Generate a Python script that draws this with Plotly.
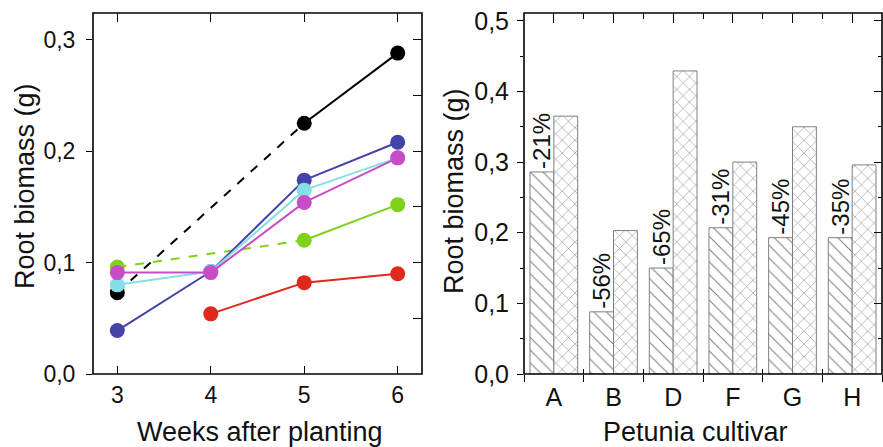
import plotly.graph_objects as go

# ---------------- data ----------------
weeks = [3, 4, 5, 6]
black_vals = [0.073, None, 0.225, 0.288]
red_vals = [None, 0.054, 0.082, 0.090]
green_vals = [0.096, None, 0.120, 0.152]
blue_vals = [0.039, 0.092, 0.174, 0.208]
cyan_vals = [0.080, 0.092, 0.165, 0.194]
magenta_vals = [0.091, 0.091, 0.154, 0.194]

cultivars = ["A", "B", "D", "F", "G", "H"]
treated_vals = [0.286, 0.088, 0.150, 0.207, 0.193, 0.193]
control_vals = [0.365, 0.203, 0.429, 0.300, 0.350, 0.296]
pct_labels = ["-21%", "-56%", "-65%", "-31%", "-45%", "-35%"]

left_yticks = [0.0, 0.1, 0.2, 0.3]
left_yticktext = ["0,0", "0,1", "0,2", "0,3"]
right_yticks = [0.0, 0.1, 0.2, 0.3, 0.4, 0.5]
right_yticktext = ["0,0", "0,1", "0,2", "0,3", "0,4", "0,5"]

W, H = 883, 447
FONT = "Liberation Sans, Arial, sans-serif"

# ---------------- geometry (paper fractions) ----------------
L_x0, L_x1 = 93 / W, 422 / W
R_x0, R_x1 = 524 / W, 882 / W
y0, y1 = 1 - 374 / H, 1 - 13 / H

fig = go.Figure()

series = [
    ("black", black_vals, "#000000"),
    ("red", red_vals, "#e0281c"),
    ("green", green_vals, "#80d01c"),
    ("blue", blue_vals, "#4343a8"),
    ("cyan", cyan_vals, "#84e0e6"),
    ("magenta", magenta_vals, "#c84cc8"),
]

for name, vals, col in series:
    pts = [(w, v) for w, v in zip(weeks, vals) if v is not None]
    solid_x, solid_y, dash_x, dash_y = [], [], [], []
    for (wa, va), (wb, vb) in zip(pts[:-1], pts[1:]):
        if wb - wa == 1:
            solid_x += [wa, wb, None]
            solid_y += [va, vb, None]
        else:
            dash_x += [wa, wb, None]
            dash_y += [va, vb, None]
    if dash_x:
        fig.add_trace(go.Scatter(x=dash_x, y=dash_y, mode="lines",
                                 line=dict(color=col, width=2, dash="dash"),
                                 xaxis="x", yaxis="y", showlegend=False,
                                 hoverinfo="skip"))
    if solid_x:
        fig.add_trace(go.Scatter(x=solid_x, y=solid_y, mode="lines",
                                 line=dict(color=col, width=2),
                                 xaxis="x", yaxis="y", showlegend=False,
                                 hoverinfo="skip"))
    fig.add_trace(go.Scatter(x=[p[0] for p in pts], y=[p[1] for p in pts],
                             mode="markers",
                             marker=dict(color=col, size=15, line=dict(width=0)),
                             xaxis="x", yaxis="y", showlegend=False, name=name))

xpos = list(range(len(cultivars)))
fig.add_trace(go.Bar(
    x=xpos, y=treated_vals, xaxis="x3", yaxis="y3", offsetgroup="a",
    marker=dict(color="white", line=dict(color="#808080", width=1),
                pattern=dict(shape="\\", fgcolor="#7c7c7c", bgcolor="white",
                             size=9, solidity=0.11)),
    text=pct_labels, textposition="outside", textangle=-90,
    constraintext="none", cliponaxis=False,
    textfont=dict(family=FONT, size=24, color="#111111"),
    showlegend=False))
fig.add_trace(go.Bar(
    x=xpos, y=control_vals, xaxis="x3", yaxis="y3", offsetgroup="b",
    marker=dict(color="white", line=dict(color="#808080", width=1),
                pattern=dict(shape="x", fgcolor="#7c7c7c", bgcolor="white",
                             size=9, solidity=0.11)),
    showlegend=False))

Lxr = [2.74, 6.26]
Lyr = [0, 0.324]
Rxr = [-0.5, 5.5]
Ryr = [0, 0.511]

# invisible helper traces so that the mirrored tick axes get drawn
for xa, ya, px, py in (("x2", "y", Lxr[0], Lyr[0]), ("x", "y2", Lxr[0], Lyr[0]),
                       ("x4", "y3", Rxr[0], Ryr[0]), ("x5", "y3", Rxr[0], Ryr[0]),
                       ("x3", "y4", Rxr[0], Ryr[0])):
    fig.add_trace(go.Scatter(x=[px], y=[py], xaxis=xa, yaxis=ya, mode="markers",
                             marker=dict(size=1, opacity=0), showlegend=False,
                             hoverinfo="skip"))

axcommon = dict(showgrid=False, zeroline=False, showline=False,
                tickcolor="black", tickwidth=1.4, automargin=False)
tickfont_l = dict(family=FONT, size=23, color="#111111")
tickfont_r = dict(family=FONT, size=25, color="#111111")

fig.update_layout(
    template="none",
    width=W, height=H, margin=dict(l=0, r=0, t=0, b=0, pad=0),
    paper_bgcolor="white", plot_bgcolor="rgba(0,0,0,0)",
    barmode="group", bargap=0.2, bargroupgap=0,
    # ---- left panel ----
    xaxis=dict(domain=[L_x0, L_x1], range=Lxr, anchor="y",
               tickmode="array", tickvals=weeks, ticks="inside", ticklen=8,
               tickfont=tickfont_l, ticklabelstandoff=5, **axcommon),
    xaxis2=dict(domain=[L_x0, L_x1], range=Lxr, anchor="y", overlaying="x",
                side="top", tickmode="array", tickvals=weeks, ticks="inside",
                ticklen=9, showticklabels=False, **axcommon),
    yaxis=dict(domain=[y0, y1], range=Lyr, anchor="x",
               tickmode="array", tickvals=left_yticks, ticktext=left_yticktext,
               ticks="outside", ticklen=6, tickfont=tickfont_l,
               ticklabelstandoff=6, **axcommon),
    yaxis2=dict(domain=[y0, y1], range=Lyr, anchor="x", overlaying="y",
                side="right", tickmode="linear", tick0=0, dtick=0.05,
                ticks="inside", ticklen=9, showticklabels=False, **axcommon),
    # ---- right panel ----
    xaxis3=dict(domain=[R_x0, R_x1], range=Rxr, anchor="y3",
                tickmode="array", tickvals=xpos, ticktext=cultivars,
                ticks="", tickfont=tickfont_r, ticklabelstandoff=6,
                minor=dict(tickmode="linear", tick0=-0.5, dtick=1,
                           ticks="outside", ticklen=7, tickcolor="black",
                           tickwidth=1.4, showgrid=False),
                **axcommon),
    xaxis4=dict(domain=[R_x0, R_x1], range=Rxr, anchor="y3", overlaying="x3",
                side="top", tickmode="array", tickvals=xpos, ticks="inside",
                ticklen=10, showticklabels=False,
                minor=dict(tickmode="linear", tick0=-0.5, dtick=1,
                           ticks="inside", ticklen=6, tickcolor="black",
                           tickwidth=1.4, showgrid=False),
                **axcommon),
    xaxis5=dict(domain=[R_x0, R_x1], range=Rxr, anchor="y3", overlaying="x3",
                side="bottom", tickmode="linear", tick0=-0.5, dtick=1,
                ticks="inside", ticklen=5, showticklabels=False, **axcommon),
    yaxis3=dict(domain=[y0, y1], range=Ryr, anchor="x3",
                tickmode="array", tickvals=right_yticks,
                ticktext=right_yticktext, ticks="outside", ticklen=6,
                tickfont=tickfont_r, ticklabelstandoff=3,
                minor=dict(tickmode="linear", tick0=0.05, dtick=0.1,
                           ticks="outside", ticklen=3, tickcolor="black",
                           tickwidth=1.4, showgrid=False),
                **axcommon),
    yaxis4=dict(domain=[y0, y1], range=Ryr, anchor="x3", overlaying="y3",
                side="right", tickmode="linear", tick0=0, dtick=0.1,
                ticks="inside", ticklen=8, showticklabels=False,
                minor=dict(tickmode="linear", tick0=0.05, dtick=0.1,
                           ticks="inside", ticklen=4, tickcolor="black",
                           tickwidth=1.4, showgrid=False),
                **axcommon),
)

# frames around both panels
for xr, yr in (("x", "y"), ("x3", "y3")):
    fig.add_shape(type="rect", xref=f"{xr} domain", yref=f"{yr} domain",
                  x0=0, x1=1, y0=0, y1=1, layer="above",
                  line=dict(color="black", width=1.6),
                  fillcolor="rgba(0,0,0,0)")

titlefont = dict(family=FONT, size=27, color="#111111")
fig.add_annotation(text="Root biomass (g)", xref="paper", yref="paper",
                   x=25 / W, y=1 - 186 / H, textangle=-90, showarrow=False,
                   font=titlefont, xanchor="center", yanchor="middle")
fig.add_annotation(text="Weeks after planting", xref="paper", yref="paper",
                   x=260 / W, y=1 - 432 / H, showarrow=False,
                   font=titlefont, xanchor="center", yanchor="middle")
fig.add_annotation(text="Root biomass (g)", xref="paper", yref="paper",
                   x=454 / W, y=1 - 191 / H, textangle=-90, showarrow=False,
                   font=titlefont, xanchor="center", yanchor="middle")
fig.add_annotation(text="Petunia cultivar", xref="paper", yref="paper",
                   x=695 / W, y=1 - 432 / H, showarrow=False,
                   font=titlefont, xanchor="center", yanchor="middle")

fig.write_html("out.html")
